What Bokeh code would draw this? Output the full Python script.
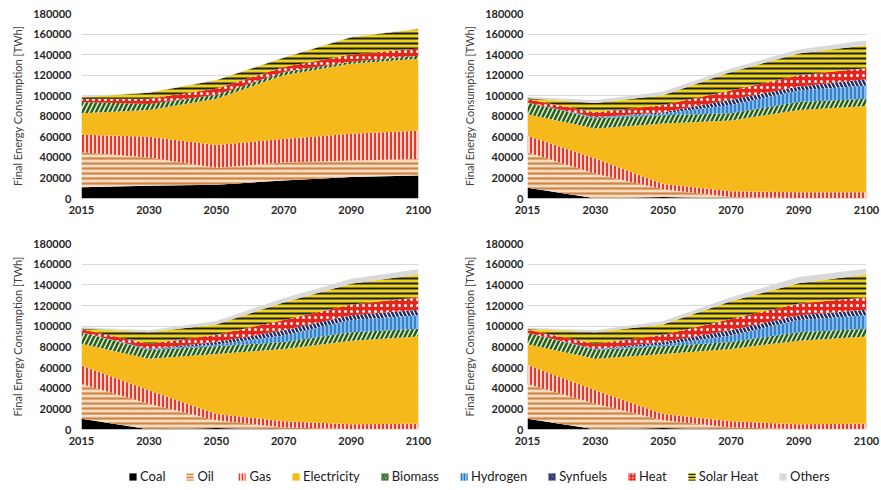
from bokeh.plotting import figure
from bokeh.layouts import column, row
from bokeh.models import (ColumnDataSource, FixedTicker, Range1d, Legend, LegendItem,
                          BasicTickFormatter)
from bokeh.embed import file_html
from bokeh.resources import INLINE

# ---------------- data ----------------
years = [2015, 2030, 2050, 2070, 2090, 2100]
series_names = ["Coal", "Oil", "Gas", "Electricity", "Biomass", "Hydrogen",
                "Synfuels", "Heat", "Solar Heat", "Others"]
y_ticks = [0, 20000, 40000, 60000, 80000, 100000, 120000, 140000, 160000, 180000]

# top-left panel
tl_coal = [11000, 12500, 13500, 17500, 21000, 22500]
tl_oil = [34000, 27500, 16500, 17500, 16000, 16000]
tl_gas = [17000, 20000, 22000, 23000, 26000, 27500]
tl_electricity = [21000, 26000, 45000, 62000, 68000, 70000]
tl_biomass = [11000, 6000, 4000, 3000, 2000, 3000]
tl_hydrogen = [0, 0, 0, 0, 0, 0]
tl_synfuels = [0, 0, 0, 0, 0, 0]
tl_heat = [3000, 5000, 6000, 5000, 7000, 7000]
tl_solar = [1500, 6000, 8000, 9000, 17000, 19000]
tl_others = [800, 500, 500, 500, 500, 500]

# top-right panel
tr_coal = [10500, 300, 1500, 300, 0, 0]
tr_oil = [34500, 23700, 7500, 1200, 500, 500]
tr_gas = [16000, 15000, 5000, 5500, 5500, 5500]
tr_electricity = [21000, 29000, 59000, 69000, 80000, 84000]
tr_biomass = [11500, 10000, 8000, 7000, 8000, 7000]
tr_hydrogen = [0, 1000, 1700, 8000, 11000, 13000]
tr_synfuels = [0, 0, 1300, 5000, 4000, 6000]
tr_heat = [3000, 5000, 7000, 9000, 11000, 11000]
tr_solar = [1000, 9000, 9500, 18000, 21000, 22000]
tr_others = [1500, 2500, 3500, 3500, 4000, 5000]

# bottom-left panel
bl_coal = [10500, 300, 1500, 300, 0, 0]
bl_oil = [33500, 24700, 7500, 1700, 500, 500]
bl_gas = [18000, 13000, 6000, 6000, 4500, 5000]
bl_electricity = [21000, 30500, 58000, 70000, 81000, 84500]
bl_biomass = [11000, 8500, 7500, 6600, 8000, 7600]
bl_hydrogen = [0, 1000, 1500, 6400, 12000, 12900]
bl_synfuels = [0, 0, 2600, 5000, 4500, 5500]
bl_heat = [3000, 5000, 7100, 10000, 10500, 12000]
bl_solar = [800, 11000, 10000, 17000, 20000, 22000]
bl_others = [1200, 2000, 3300, 4000, 5000, 5000]

# bottom-right panel
br_coal = [10500, 300, 1500, 300, 0, 0]
br_oil = [33500, 24700, 7500, 1700, 500, 500]
br_gas = [18500, 13000, 6000, 6000, 4500, 5000]
br_electricity = [20000, 30500, 58000, 70000, 81000, 84500]
br_biomass = [11000, 8500, 7500, 6600, 8000, 7600]
br_hydrogen = [0, 1000, 1500, 6400, 12000, 12900]
br_synfuels = [0, 0, 2600, 5000, 4500, 5500]
br_heat = [3000, 5000, 7100, 11000, 11500, 12000]
br_solar = [800, 11000, 10000, 17000, 19500, 22000]
br_others = [1200, 2000, 3300, 4000, 6000, 5500]

panels = [
    [tl_coal, tl_oil, tl_gas, tl_electricity, tl_biomass, tl_hydrogen, tl_synfuels, tl_heat, tl_solar, tl_others],
    [tr_coal, tr_oil, tr_gas, tr_electricity, tr_biomass, tr_hydrogen, tr_synfuels, tr_heat, tr_solar, tr_others],
    [bl_coal, bl_oil, bl_gas, bl_electricity, bl_biomass, bl_hydrogen, bl_synfuels, bl_heat, bl_solar, bl_others],
    [br_coal, br_oil, br_gas, br_electricity, br_biomass, br_hydrogen, br_synfuels, br_heat, br_solar, br_others],
]

# ---------------- styles ----------------
fill_colors = ["#000000", "#f6dcc0", "#fbd3cc", "#f6b91c", "#d5ecc6", "#7dbbea",
               "#ffffff", "#e3261e", "#ecd41c", "#d9d9d9"]
hatch_patterns = [" ", "-", "|", " ", "/", "|", "\\", ".", "-", " "]
hatch_colors = ["#000000", "#cd8646", "#e53a26", "#f6b91c", "#2b5a1c", "#2a72bf",
                "#1f2b6b", "#ffffff", "#1e1e1e", "#d9d9d9"]
hatch_scales = [12, 5, 4, 12, 9, 4, 8, 6, 5, 12]
hatch_weights = [1, 2.2, 2, 1, 2.4, 1.6, 2.4, 2.2, 2, 1]

FONT = "Lato"
x_idx = list(range(len(years)))


def make_source(values):
    data = {"x": x_idx}
    for name, vals in zip(series_names, values):
        data[name] = vals
    return ColumnDataSource(data)


def make_panel(values, width, height, left, right, top, bottom, tick_standoff):
    src = make_source(values)
    p = figure(width=width, height=height, output_backend="svg", toolbar_location=None,
               x_range=Range1d(0, len(years) - 1), y_range=Range1d(0, 180000),
               min_border_left=left, min_border_right=right,
               min_border_top=top, min_border_bottom=bottom)
    p.varea_stack(series_names, x="x", source=src,
                  fill_color=fill_colors, hatch_pattern=hatch_patterns,
                  hatch_color=hatch_colors, hatch_scale=hatch_scales,
                  hatch_weight=hatch_weights)
    p.outline_line_color = None
    p.background_fill_color = "white"
    p.border_fill_color = "white"
    p.xgrid.visible = False
    p.ygrid.grid_line_color = "#d9d9d9"
    p.ygrid.grid_line_width = 1
    p.ygrid.level = "underlay"

    p.xaxis.ticker = FixedTicker(ticks=x_idx)
    p.xaxis.major_label_overrides = {i: str(y) for i, y in zip(x_idx, years)}
    p.yaxis.ticker = FixedTicker(ticks=y_ticks)
    p.yaxis.formatter = BasicTickFormatter(use_scientific=False)
    for ax in (p.xaxis[0], p.yaxis[0]):
        ax.axis_line_color = None
        ax.major_tick_line_color = None
        ax.minor_tick_line_color = None
        ax.major_tick_out = 0
        ax.major_tick_in = 0
        ax.major_label_text_font = FONT
        ax.major_label_text_font_style = "bold"
        ax.major_label_text_font_size = "11px"
        ax.major_label_text_color = "#262626"
    p.xaxis.major_label_standoff = 7
    p.yaxis.major_label_standoff = tick_standoff
    p.yaxis.axis_label = "Final Energy Consumption [TWh]"
    p.yaxis.axis_label_text_font = FONT
    p.yaxis.axis_label_text_font_style = "normal"
    p.yaxis.axis_label_text_font_size = "11px"
    p.yaxis.axis_label_text_color = "#404040"
    p.yaxis.axis_label_standoff = 6
    return p


p_tl = make_panel(panels[0], 440, 230, 81, 22, 13, 32, 10)
p_tr = make_panel(panels[1], 441, 230, 87, 15, 13, 32, 4)
p_bl = make_panel(panels[2], 440, 225, 81, 22, 13, 26, 10)
p_br = make_panel(panels[3], 441, 225, 87, 15, 13, 26, 4)

# ---------------- legend ----------------
# legend-only strip: the stacked areas are drawn again but lie outside the visible range,
# so only the legend swatches show
p_leg = figure(width=881, height=34, output_backend="svg", toolbar_location=None,
               x_range=Range1d(0, len(years) - 1), y_range=Range1d(-2, -1),
               min_border=0)
p_leg.axis.visible = False
p_leg.grid.visible = False
p_leg.outline_line_color = None
leg_renderers = p_leg.varea_stack(series_names, x="x", source=make_source(panels[3]),
                                  fill_color=fill_colors, hatch_pattern=hatch_patterns,
                                  hatch_color=hatch_colors,
                                  hatch_scale=[max(3, s * 0.6) for s in hatch_scales],
                                  hatch_weight=[w * 0.8 for w in hatch_weights])
items = [LegendItem(label=name, renderers=[r]) for name, r in zip(series_names, leg_renderers)]
legend = Legend(items=items, orientation="horizontal", location=(128, 5),
                glyph_width=9, glyph_height=9, label_standoff=3, spacing=20,
                padding=2, margin=0, border_line_color=None, background_fill_alpha=0,
                label_text_font=FONT, label_text_font_size="13px",
                label_text_color="#1a1a1a")
p_leg.add_layout(legend, "center")

layout = column(row(p_tl, p_tr), row(p_bl, p_br), p_leg)

open("out.html", "w").write(file_html(layout, INLINE))
